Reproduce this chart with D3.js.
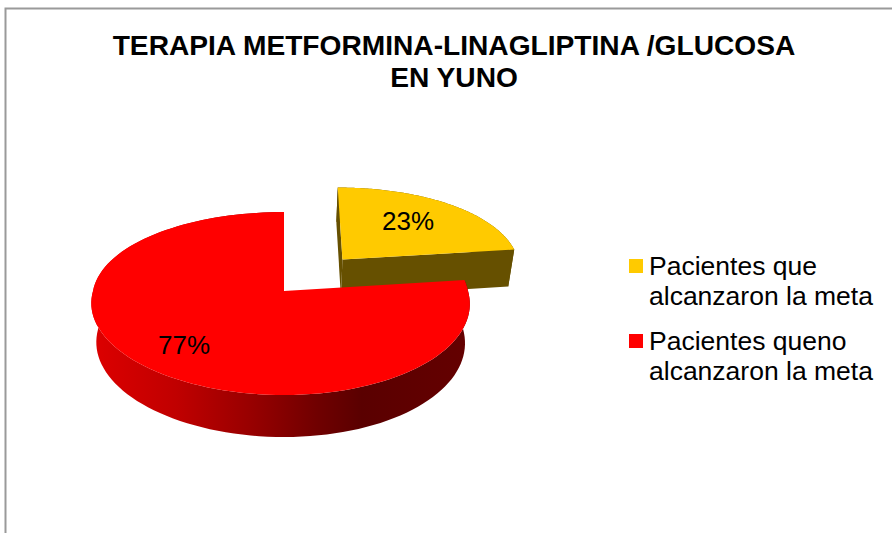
<!DOCTYPE html>
<html>
<head>
<meta charset="utf-8">
<script src="https://cdn.jsdelivr.net/npm/d3@7"></script>
<style>
  html, body { margin: 0; padding: 0; background: #fff; }
  svg { display: block; }
  text { font-family: "Liberation Sans", Arial, sans-serif; fill: #000; }
</style>
</head>
<body>
<div id="chart"></div>
<script>
// DATA
var titleLines = ["TERAPIA METFORMINA-LINAGLIPTINA /GLUCOSA", "EN YUNO"];
var categories = [
  ["Pacientes que", "alcanzaron la meta"],
  ["Pacientes queno", "alcanzaron la meta"]
];
var seriesValues = [23, 77];
var sliceLabels = ["23%", "77%"];
var sliceColors = ["#ffca00", "#ff0000"];
var wallColors = ["#665000", "url(#redWall)"];
var explode = [0.49, 0];

// SET UP CHART
var svgWidth = 892;
var svgHeight = 533;

var svg = d3.select("#chart")
  .append("svg")
  .attr("width", svgWidth)
  .attr("height", svgHeight);

// FRAME - only top and left are inside the crop
svg.append("path")
  .attr("d", "M5.5,533V8.5H892")
  .attr("fill", "none")
  .attr("stroke", "#9a9a9a")
  .attr("stroke-width", 2);

// GRADIENT FOR THE RED WALL
var gradient = svg.append("defs").append("linearGradient")
  .attr("id", "redWall")
  .attr("gradientUnits", "userSpaceOnUse")
  .attr("x1", 95).attr("x2", 465).attr("y1", 0).attr("y2", 0);

[[0, "#dc0000"], [0.22, "#c00000"], [0.43, "#960000"], [0.6, "#700000"], [0.72, "#5a0000"], [1, "#640000"]]
  .forEach(function(s) {
    gradient.append("stop").attr("offset", s[0]).attr("stop-color", s[1]);
  });

// PIE ANGLES
var pie = d3.pie().sort(null).value(d => d);
var slices = pie(seriesValues);

// PERSPECTIVE - ground plane to screen
var apexX = 284, apexY = 291;
var radiusX = 187.5, radiusY = 89.8;
var tilt = 0.1366, tiltBack = 0.09, skew = 3.5;

function project(x, y, low) {
  var s = 1 / (1 + tilt * y);
  // the far half narrows less than the near half widens
  var sX = y < 0 ? s : 1 / (1 + tiltBack * y);
  var sx = apexX + radiusX * x * sX - skew * x * x;
  var sy = apexY - radiusY * y * s;
  if (low) {
    sx = apexX + (sx - apexX) * 0.974;
    sy = sy + 38.7 - 3.3 * y;
  }
  return [sx, sy];
}

var line = d3.line();

// Points around the rim of one slice
function rim(d, ox, oy, low) {
  return d3.range(0, 121).map(function(i) {
    var a = d.startAngle + (d.endAngle - d.startAngle) * i / 120;
    return project(ox + Math.sin(a), oy + Math.cos(a), low);
  });
}

var chartGroup = svg.append("g");

// yellow first, the red pie sits in front of it
slices.forEach(function(d, i) {
  var mid = (d.startAngle + d.endAngle) / 2;
  var ox = explode[i] * Math.sin(mid);
  var oy = explode[i] * Math.cos(mid);
  var top = rim(d, ox, oy, false);
  var low = rim(d, ox, oy, true);
  var hub = project(ox, oy, false);
  var hubLow = project(ox, oy, true);

  // outer wall
  chartGroup.append("path")
    .attr("d", line(top.concat(low.slice().reverse())) + "Z")
    .attr("fill", wallColors[i]);

  // cut walls, only the exploded slice shows them
  if (explode[i] > 0) {
    [[top[0], low[0]], [top[120], low[120]]].forEach(function(edge) {
      chartGroup.append("path")
        .attr("d", line([hub, edge[0], edge[1], hubLow]) + "Z")
        .attr("fill", wallColors[i]);
    });
  }

  // top face
  chartGroup.append("path")
    .attr("d", line([hub].concat(top)) + "Z")
    .attr("fill", sliceColors[i]);
});

// DATA LABELS
var labelSpots = [[408, 230], [184, 354]];
chartGroup.selectAll(".sliceLabel")
  .data(sliceLabels)
  .enter()
  .append("text")
  .attr("class", "sliceLabel")
  .attr("x", (d, i) => labelSpots[i][0])
  .attr("y", (d, i) => labelSpots[i][1])
  .attr("text-anchor", "middle")
  .attr("font-size", 26)
  .text(d => d);

// TITLE
svg.selectAll(".titleLine")
  .data(titleLines)
  .enter()
  .append("text")
  .attr("class", "titleLine")
  .attr("x", 454)
  .attr("y", (d, i) => 55 + i * 32)
  .attr("text-anchor", "middle")
  .attr("font-size", 28.15)
  .attr("font-weight", "bold")
  .text(d => d);

// LEGEND
var legend = svg.selectAll(".legendItem")
  .data(categories)
  .enter()
  .append("g")
  .attr("class", "legendItem")
  .attr("transform", (d, i) => `translate(629, ${259 + i * 75})`);

legend.append("rect")
  .attr("width", 14)
  .attr("height", 14)
  .attr("fill", (d, i) => sliceColors[i]);

legend.selectAll("text")
  .data(d => d)
  .enter()
  .append("text")
  .attr("x", 20)
  .attr("y", (d, i) => 16 + i * 30)
  .attr("font-size", 26.5)
  .text(d => d);
</script>
</body>
</html>
